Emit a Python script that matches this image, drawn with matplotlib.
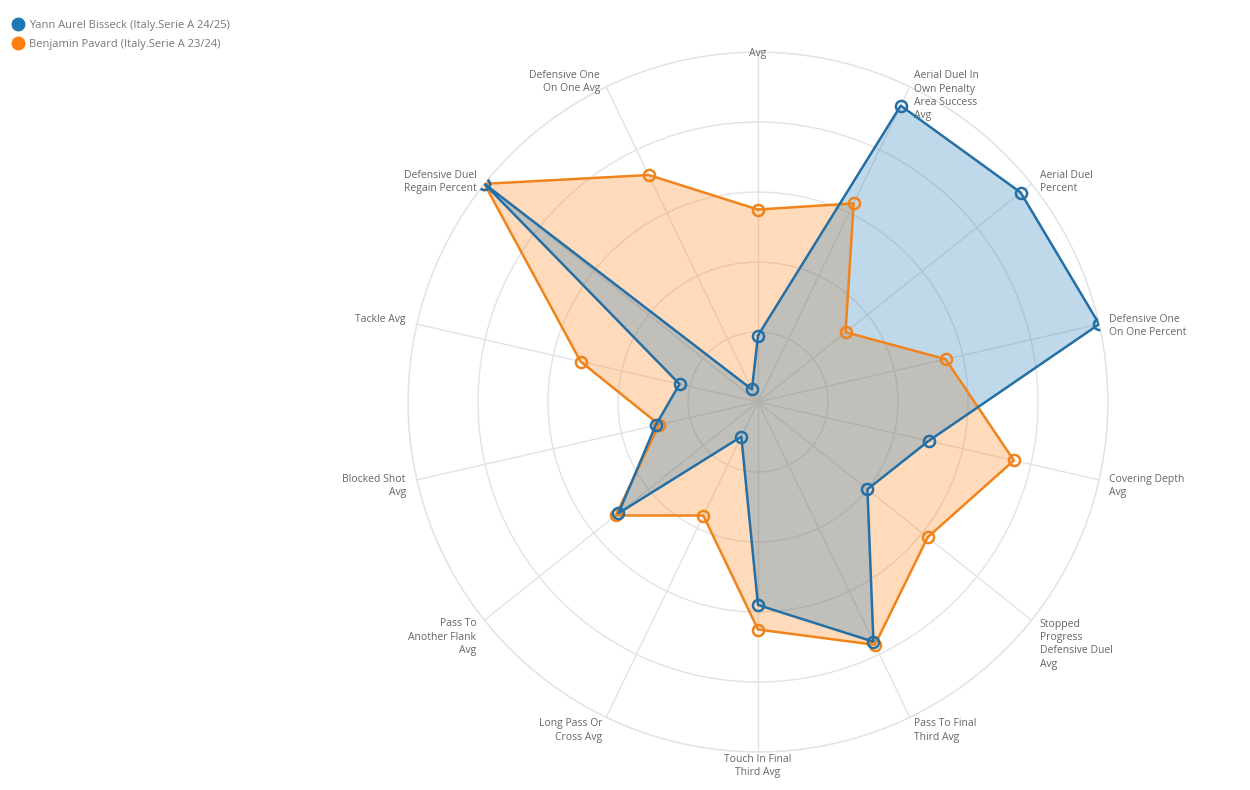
import numpy as np
import matplotlib
matplotlib.use("Agg")
from matplotlib import pyplot as plt
from matplotlib.lines import Line2D

plt.rcParams['font.family'] = ['Open Sans', 'DejaVu Sans']

categories = [
    "Avg",
    "Aerial Duel In\nOwn Penalty\nArea Success\nAvg",
    "Aerial Duel\nPercent",
    "Defensive One\nOn One Percent",
    "Covering Depth\nAvg",
    "Stopped\nProgress\nDefensive Duel\nAvg",
    "Pass To Final\nThird Avg",
    "Touch In Final\nThird Avg",
    "Long Pass Or\nCross Avg",
    "Pass To\nAnother Flank\nAvg",
    "Blocked Shot\nAvg",
    "Tackle Avg",
    "Defensive Duel\nRegain Percent",
    "Defensive One\nOn One Avg",
]

bisseck = [19, 94, 96, 100, 50, 40, 76, 58, 11, 51, 30, 23, 100, 4]
pavard = [55, 63, 32, 55, 75, 62, 77, 65, 36, 52, 29, 52, 100, 72]

series_names = ["Yann Aurel Bisseck (Italy.Serie A 24/25)",
                "Benjamin Pavard (Italy.Serie A 23/24)"]
series_colors = ["#1f77b4", "#ff7f0e"]
line_colors = ["#236fa6", "#f0841c"]

# label nudges in pixels (dx right, dy up) from the end of each axis
label_dx = [0, 4, 8, 10, 10, 8, 4, 0, -4, -8, -11, -11, -8, -6]
label_dy = [-1, -9, 2, -2, -6, -24, -13, -14, -13, -17, -6, 5, 2, 5]

n = len(categories)
angles = np.arange(n) * 2 * np.pi / n

fig = plt.figure(figsize=(12.5, 7.9), dpi=100)
ax = fig.add_axes([0.3264, 0.0481, 0.56, 0.886], projection="polar")
ax.set_theta_zero_location("N")
ax.set_theta_direction(-1)
ax.set_ylim(0, 100)
ax.set_yticks([20, 40, 60, 80, 100])
ax.set_yticklabels([])
ax.set_xticks(angles)
ax.set_xticklabels([])
ax.grid(color="#e3e3e3", linewidth=1)
ax.spines["polar"].set_color("#e3e3e3")
ax.spines["polar"].set_linewidth(1)

closed = np.append(angles, angles[0])
for vals, fc, lc, z in [(bisseck, series_colors[0], line_colors[0], 3),
                        (pavard, series_colors[1], line_colors[1], 2)]:
    v = np.append(vals, vals[0])
    ax.fill(closed, v, color=fc, alpha=0.28, zorder=z, linewidth=0)
    ax.plot(closed, v, color=lc, linewidth=1.8, zorder=z + 2)
    ax.plot(angles, vals, linestyle="none", marker="o", markersize=8,
            markerfacecolor="none", markeredgecolor=lc, markeredgewidth=1.8,
            zorder=z + 2)

for k, (a, lab) in enumerate(zip(angles, categories)):
    s = np.sin(a)
    if abs(s) < 0.01:
        ha = "center"
    elif s > 0:
        ha = "left"
    else:
        ha = "right"
    ax.annotate(lab, xy=(a, 100), xytext=(label_dx[k] * 0.72, label_dy[k] * 0.72),
                textcoords="offset points", ha=ha, va="center", fontsize=7.5,
                color="#666666", linespacing=1.3, annotation_clip=False)

handles = [Line2D([], [], linestyle="none", marker="o", markersize=9,
                  color=c) for c in series_colors]
fig.legend(handles, series_names, loc="upper left", bbox_to_anchor=(0.004, 0.985),
           frameon=False, fontsize=8.0, labelcolor="#777777", handletextpad=0.5,
           handlelength=1.0, borderaxespad=0.3, labelspacing=0.75)

fig.savefig("out.png", dpi=100)
